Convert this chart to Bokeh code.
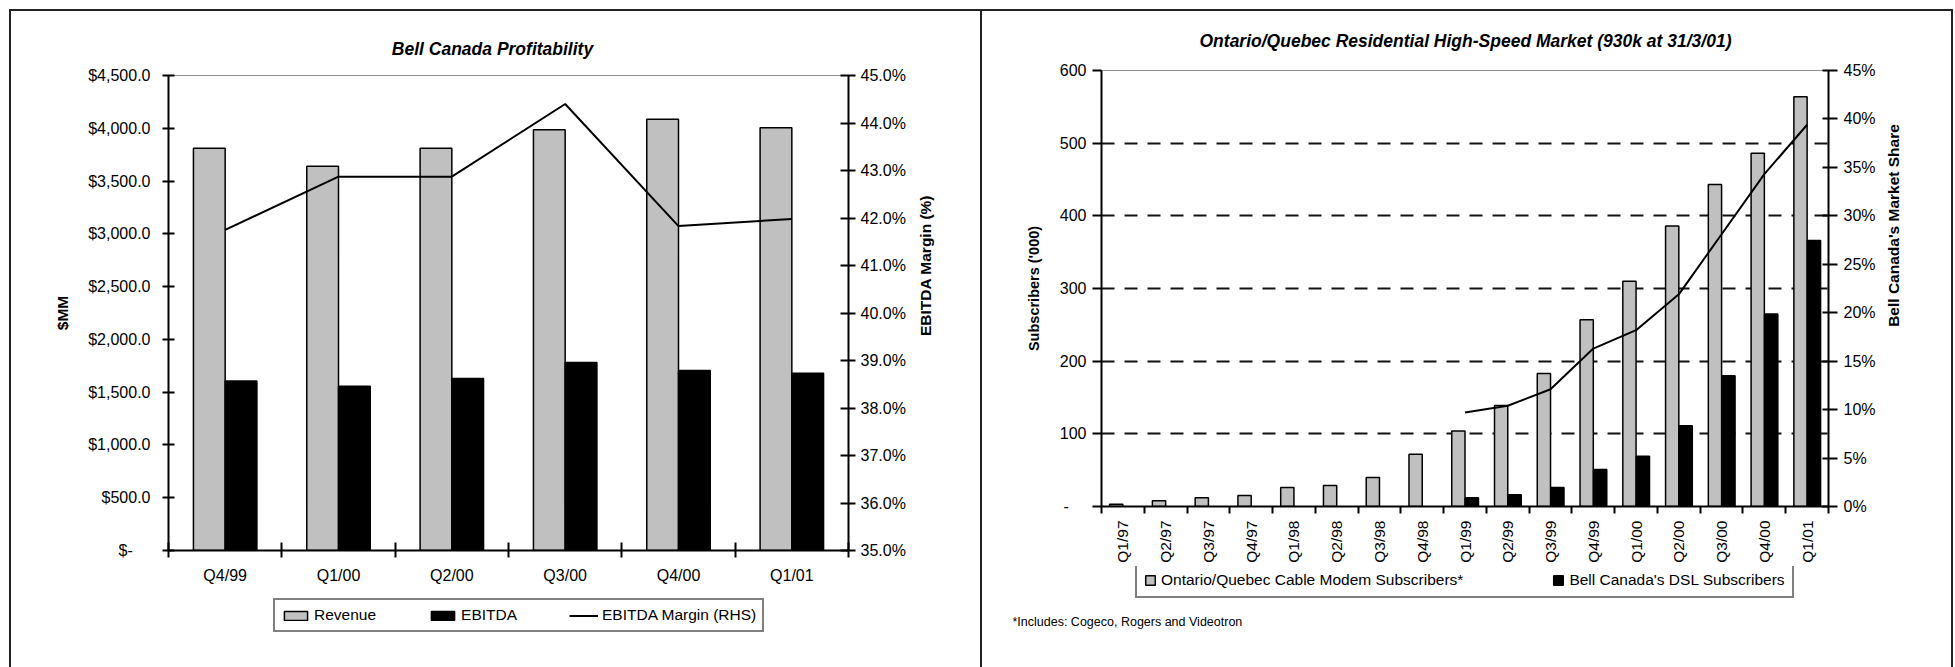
import math
from bokeh.plotting import figure
from bokeh.models import Range1d, LinearAxis, FixedTicker, Legend, LegendItem, Label
from bokeh.layouts import row, column
from bokeh.embed import file_html
from bokeh.resources import INLINE

FONT = "Liberation Sans"
TXT = "16px"
LEG = "15.5px"
AXL = "15.5px"

# ---------------- Left chart data ----------------
quarters_l = ["Q4/99", "Q1/00", "Q2/00", "Q3/00", "Q4/00", "Q1/01"]
revenue = [3810, 3640, 3810, 3985, 4085, 4005]
ebitda = [1605, 1555, 1630, 1780, 1705, 1680]
margin = [41.75, 42.87, 42.87, 44.40, 41.83, 41.98]
money_ticks = [0, 500, 1000, 1500, 2000, 2500, 3000, 3500, 4000, 4500]
money_labels = ["$-\u00a0\u00a0\u00a0\u00a0", "$500.0", "$1,000.0", "$1,500.0", "$2,000.0",
                "$2,500.0", "$3,000.0", "$3,500.0", "$4,000.0", "$4,500.0"]
margin_ticks = [35, 36, 37, 38, 39, 40, 41, 42, 43, 44, 45]
margin_labels = ["35.0%", "36.0%", "37.0%", "38.0%", "39.0%", "40.0%",
                 "41.0%", "42.0%", "43.0%", "44.0%", "45.0%"]

# ---------------- Right chart data ----------------
quarters_r = ["Q1/97", "Q2/97", "Q3/97", "Q4/97", "Q1/98", "Q2/98", "Q3/98", "Q4/98",
              "Q1/99", "Q2/99", "Q3/99", "Q4/99", "Q1/00", "Q2/00", "Q3/00", "Q4/00", "Q1/01"]
cable = [3, 8, 12, 15, 26, 29, 40, 72, 104, 139, 183, 257, 310, 386, 443, 486, 564]
dsl = [0, 0, 0, 0, 0, 0, 0, 0, 12, 16, 26, 51, 69, 111, 180, 265, 366]
share = [None, None, None, None, None, None, None, None,
         9.7, 10.4, 12.1, 16.3, 18.2, 21.9, 28.1, 34.3, 39.4]
subs_ticks = [0, 100, 200, 300, 400, 500, 600]
subs_labels = ["-\u00a0\u00a0\u00a0\u00a0", "100", "200", "300", "400", "500", "600"]
share_ticks = [0, 5, 10, 15, 20, 25, 30, 35, 40, 45]
share_labels = ["0%", "5%", "10%", "15%", "20%", "25%", "30%", "35%", "40%", "45%"]

GRAY = "#C0C0C0"


def style_axis(ax):
    ax.axis_line_color = "black"
    ax.axis_line_width = 2
    ax.major_tick_line_color = "black"
    ax.major_tick_line_width = 2
    ax.minor_tick_line_color = "black"
    ax.minor_tick_line_width = 2
    ax.major_label_text_font = FONT
    ax.major_label_text_font_size = TXT
    ax.major_label_text_color = "black"
    ax.axis_label_text_font = FONT
    ax.axis_label_text_font_size = AXL
    ax.axis_label_text_font_style = "bold"
    ax.axis_label_text_color = "black"


def blank_fig(w, h):
    f = figure(width=w, height=h, min_border=0, x_range=Range1d(0, 1), y_range=Range1d(0, 1),
               x_axis_location=None, y_axis_location=None, output_backend="svg",
               toolbar_location=None, title=None)
    f.border_fill_color = None
    f.background_fill_color = None
    f.outline_line_color = None
    f.xgrid.visible = False
    f.ygrid.visible = False
    return f


def text_label(f, x, y, text, size, style="normal", angle=0.0, align="center"):
    f.add_layout(Label(x=x, y=y, x_units="screen", y_units="screen", text=text,
                       angle=angle, text_align=align, text_baseline="middle",
                       text_font=FONT, text_font_style=style, text_font_size=size,
                       text_color="black"))


# ================= LEFT PANEL =================
t1 = blank_fig(979, 65)
text_label(t1, 492, 17, "Bell Canada Profitability", "17.5px", "bold italic")

p1 = figure(frame_width=680, frame_height=475, min_border_left=168, min_border_right=62,
            min_border_top=10, min_border_bottom=45, x_range=Range1d(0, 6),
            y_range=Range1d(0, 4500), output_backend="svg", toolbar_location=None, title=None)
p1.border_fill_color = None
p1.background_fill_color = None
p1.outline_line_color = "#909090"
p1.outline_line_width = 1
p1.xgrid.visible = False
p1.ygrid.visible = False

n_l = len(quarters_l)
centers_l = [i + 0.5 for i in range(n_l)]
rev_x = [c - 0.14 for c in centers_l]
ebit_x = [c + 0.14 for c in centers_l]
p1.vbar(x=rev_x, top=revenue, width=0.28, fill_color=GRAY, line_color="black", line_width=1.5)
p1.vbar(x=ebit_x, top=ebitda, width=0.28, fill_color="black", line_color="black", line_width=1.5)
p1.extra_y_ranges = {"m": Range1d(35, 45)}
p1.line(x=centers_l, y=margin, y_range_name="m", line_color="black", line_width=2)

xa = p1.xaxis[0]
style_axis(xa)
xa.ticker = FixedTicker(ticks=centers_l, minor_ticks=list(range(n_l + 1)))
xa.major_label_overrides = {c: q for c, q in zip(centers_l, quarters_l)}
xa.major_tick_in = 0
xa.major_tick_out = 0
xa.minor_tick_in = 8
xa.minor_tick_out = 7
xa.major_label_standoff = 9

ya = p1.yaxis[0]
style_axis(ya)
ya.ticker = FixedTicker(ticks=money_ticks)
ya.major_label_overrides = {t: l for t, l in zip(money_ticks, money_labels)}
ya.major_tick_in = 6
ya.major_tick_out = 6
ya.major_label_standoff = 12
ya.axis_label = "$MM"
ya.axis_label_standoff = 14

ya2 = LinearAxis(y_range_name="m")
style_axis(ya2)
ya2.ticker = FixedTicker(ticks=margin_ticks)
ya2.major_label_overrides = {t: l for t, l in zip(margin_ticks, margin_labels)}
ya2.major_tick_in = 8
ya2.major_tick_out = 7
ya2.major_label_standoff = 5
p1.add_layout(ya2, "right")

r1 = blank_fig(69, 530)
text_label(r1, 15, 530 - 310 + 65, "EBITDA Margin (%)", AXL, "bold", math.pi / 2)

# legend strip: hidden proxy renderers carry the legend swatches
l1 = blank_fig(979, 72)
l1.x_range = Range1d(0, 6)
l1.y_range = Range1d(0, 4500)
lr_rev = l1.vbar(x=rev_x, top=revenue, width=0.28, fill_color=GRAY, line_color="black",
                 line_width=1.5, visible=False)
lr_ebit = l1.vbar(x=ebit_x, top=ebitda, width=0.28, fill_color="black", line_color="black",
                  line_width=1.5, visible=False)
lr_marg = l1.line(x=centers_l, y=margin, line_color="black", line_width=2, visible=False)
leg1 = Legend(items=[LegendItem(label="Revenue", renderers=[lr_rev]),
                     LegendItem(label="EBITDA", renderers=[lr_ebit]),
                     LegendItem(label="EBITDA Margin (RHS)", renderers=[lr_marg])],
              location=(273, 35), orientation="horizontal", spacing=52, glyph_width=29,
              glyph_height=11, label_standoff=4, padding=6, margin=0, label_height=18,
              border_line_color="black", border_line_width=2,
              label_text_font=FONT, label_text_font_size=LEG, label_text_color="black",
              background_fill_color="white", background_fill_alpha=1,
              inactive_fill_alpha=0, click_policy="none")
l1.add_layout(leg1, "center")

left_panel = column(t1, row(p1, r1), l1)

# ================= RIGHT PANEL =================
t2 = blank_fig(976, 60)
text_label(t2, 1465 - 979, 20,
           "Ontario/Quebec Residential High-Speed Market (930k at 31/3/01)", "17.5px",
           "bold italic")

p2 = figure(frame_width=727, frame_height=436, min_border_left=122, min_border_right=48,
            min_border_top=10, min_border_bottom=60, x_range=Range1d(0, 17),
            y_range=Range1d(0, 600), output_backend="svg", toolbar_location=None, title=None)
p2.border_fill_color = None
p2.background_fill_color = None
p2.outline_line_color = "#909090"
p2.outline_line_width = 1
p2.xgrid.visible = False
p2.ygrid.ticker = FixedTicker(ticks=[100, 200, 300, 400, 500])
p2.ygrid.grid_line_color = "#111111"
p2.ygrid.grid_line_width = 2
p2.ygrid.grid_line_dash = "13 10"

n_r = len(quarters_r)
centers_r = [i + 0.5 for i in range(n_r)]
cable_x = [c - 0.155 for c in centers_r]
p2.vbar(x=cable_x, top=cable, width=0.31, fill_color=GRAY, line_color="black", line_width=1.5)
dsl_x = [c + 0.16 for c, v in zip(centers_r, dsl) if v > 0]
dsl_v = [v for v in dsl if v > 0]
p2.vbar(x=dsl_x, top=dsl_v, width=0.31, fill_color="black", line_color="black", line_width=1.5)
p2.extra_y_ranges = {"s": Range1d(0, 45)}
share_x = [c for c, v in zip(centers_r, share) if v is not None]
share_v = [v for v in share if v is not None]
p2.line(x=share_x, y=share_v, y_range_name="s", line_color="black", line_width=2)

xb = p2.xaxis[0]
style_axis(xb)
xb.ticker = FixedTicker(ticks=centers_r, minor_ticks=list(range(n_r + 1)))
xb.major_label_overrides = {c: q for c, q in zip(centers_r, quarters_r)}
xb.major_label_orientation = math.pi / 2
xb.major_label_text_font_size = "15.5px"
xb.major_tick_in = 0
xb.major_tick_out = 0
xb.minor_tick_in = 0
xb.minor_tick_out = 7
xb.major_label_standoff = 7

yb = p2.yaxis[0]
style_axis(yb)
yb.ticker = FixedTicker(ticks=subs_ticks)
yb.major_label_overrides = {t: l for t, l in zip(subs_ticks, subs_labels)}
yb.major_tick_in = 0
yb.major_tick_out = 9
yb.major_label_standoff = 6
yb.axis_label = "Subscribers ('000)"
yb.axis_label_text_font_size = "14.5px"
yb.axis_label_standoff = 15

yb2 = LinearAxis(y_range_name="s")
style_axis(yb2)
yb2.ticker = FixedTicker(ticks=share_ticks)
yb2.major_label_overrides = {t: l for t, l in zip(share_ticks, share_labels)}
yb2.major_tick_in = 6
yb2.major_tick_out = 9
yb2.major_label_standoff = 6
p2.add_layout(yb2, "right")

r2 = blank_fig(79, 506)
text_label(r2, 15, 506 - 285 + 60, "Bell Canada's Market Share", AXL, "bold", math.pi / 2)

l2 = blank_fig(976, 101)
l2.x_range = Range1d(0, 17)
l2.y_range = Range1d(0, 600)
lr_cable = l2.vbar(x=cable_x, top=cable, width=0.31, fill_color=GRAY, line_color="black",
                   line_width=1.5, visible=False)
lr_dsl = l2.vbar(x=dsl_x, top=dsl_v, width=0.31, fill_color="black", line_color="black",
                 line_width=1.5, visible=False)
leg2 = Legend(items=[LegendItem(label="Ontario/Quebec Cable Modem Subscribers*", renderers=[lr_cable]),
                     LegendItem(label="Bell Canada's DSL Subscribers", renderers=[lr_dsl])],
              location=(156, 69), orientation="horizontal", spacing=89, glyph_width=12,
              glyph_height=12, label_standoff=5, padding=7, margin=0, label_height=18,
              border_line_color="black", border_line_width=2,
              label_text_font=FONT, label_text_font_size=LEG, label_text_color="black",
              background_fill_color="white", background_fill_alpha=1,
              inactive_fill_alpha=0, click_policy="none")
l2.add_layout(leg2, "center")
text_label(l2, 33, 46, "*Includes: Cogeco, Rogers and Videotron", "12.5px", align="left")

right_panel = column(t2, row(p2, r2), l2)

frame_css = {
    "background-image": "linear-gradient(#222,#222), linear-gradient(#222,#222), "
                        "linear-gradient(#222,#222), linear-gradient(#222,#222)",
    "background-size": "2px 660px, 1944px 2px, 2px 660px, 2px 660px",
    "background-position": "9px 9px, 9px 9px, 980px 9px, 1951px 9px",
    "background-repeat": "no-repeat",
}
layout = row(left_panel, right_panel, styles=frame_css)

open("out.html", "w").write(file_html(layout, INLINE))
